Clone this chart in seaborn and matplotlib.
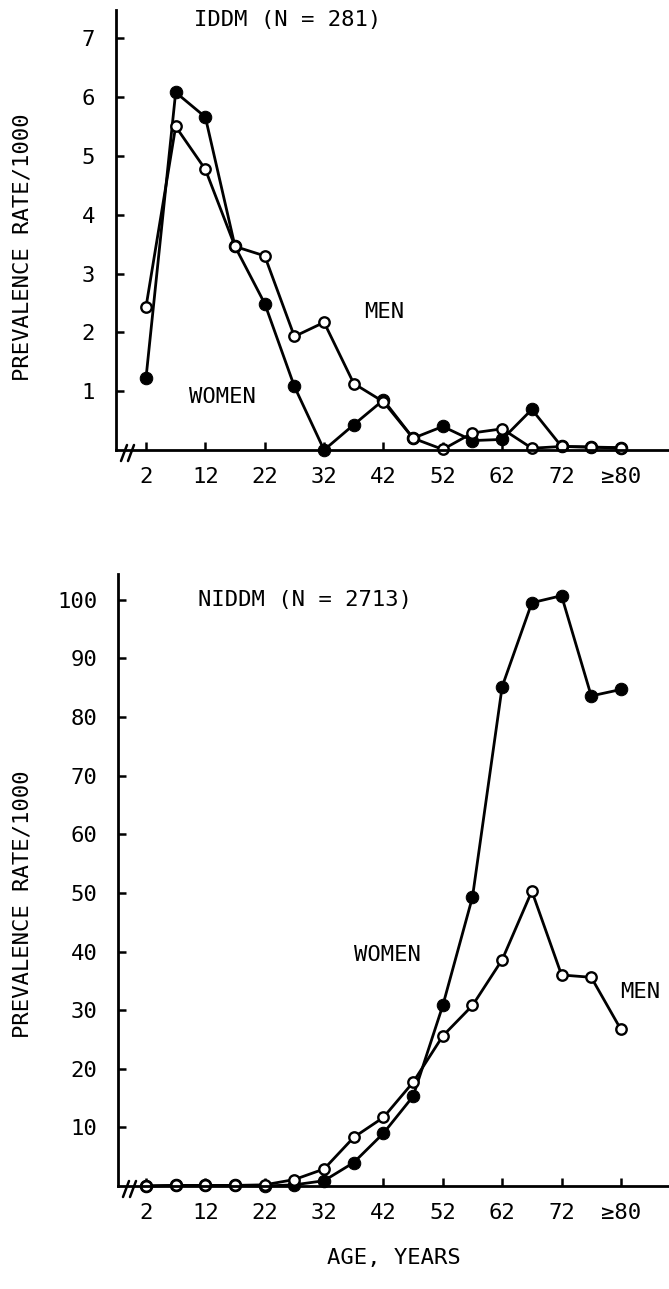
import numpy as np
import pandas as pd
import seaborn as sns
import matplotlib.pyplot as plt
from matplotlib.lines import Line2D

# ages: 5-year groups, last group is >=80
ages = [2, 7, 12, 17, 22, 27, 32, 37, 42, 47, 52, 57, 62, 67, 72, 77, 82]

iddm_women = [1.22, 6.08, 5.66, 3.46, 2.49, 1.08, 0.0, 0.43, 0.85, 0.2, 0.4,
              0.16, 0.18, 0.69, 0.06, 0.05, 0.04]
iddm_men = [2.43, 5.5, 4.77, 3.46, 3.3, 1.93, 2.17, 1.13, 0.82, 0.2, 0.01,
            0.29, 0.36, 0.03, 0.06, 0.05, 0.03]

niddm_women = [0.0, 0.1, 0.1, 0.1, 0.0, 0.2, 0.9, 4.0, 9.0, 15.3, 30.8,
               49.3, 85.2, 99.5, 100.7, 83.6, 84.7]
niddm_men = [0.0, 0.1, 0.1, 0.1, 0.2, 1.1, 2.9, 8.3, 11.7, 17.7, 25.6,
             30.8, 38.6, 50.3, 36.0, 35.6, 26.7]

xticks = [2, 12, 22, 32, 42, 52, 62, 72, 82]
xticklabels = ['2', '12', '22', '32', '42', '52', '62', '72', '≥80']

sns.set_style('ticks')
plt.rcParams['font.family'] = ['DejaVu Sans Mono', 'DejaVu Sans']
for k in ['text.color', 'axes.labelcolor', 'xtick.color', 'ytick.color', 'axes.edgecolor']:
    plt.rcParams[k] = 'black'

W, H = 669, 1289
fig = plt.figure(figsize=(W / 100, H / 100), dpi=100)


def panel(left, top, bottom, xlim, ylim, yticks, women, men, title, tpos, wpos, mpos):
    ax = fig.add_axes([left / W, 1 - bottom / H, (W - left) / W, (bottom - top) / H])
    df = pd.DataFrame({'age': ages * 2,
                       'rate': women + men,
                       'sex': ['WOMEN'] * len(ages) + ['MEN'] * len(ages)})
    sns.lineplot(data=df[df.sex == 'WOMEN'], x='age', y='rate', ax=ax, color='black',
                 lw=2, marker='o', markersize=9, markerfacecolor='black',
                 markeredgecolor='black', errorbar=None, clip_on=False)
    sns.lineplot(data=df[df.sex == 'MEN'], x='age', y='rate', ax=ax, color='black',
                 lw=2, marker='o', markersize=7.5, markerfacecolor='white',
                 markeredgecolor='black', markeredgewidth=1.7, errorbar=None, clip_on=False)
    ax.set_xlim(*xlim)
    ax.set_ylim(*ylim)
    ax.set_xticks(xticks)
    ax.set_xticklabels(xticklabels)
    ax.set_yticks(yticks)
    ax.set_xlabel('')
    ax.set_ylabel('PREVALENCE RATE/1000', fontsize=16)
    ax.yaxis.set_label_coords((33 - left) / (W - left), 0.46)
    ax.tick_params(direction='in', length=6, width=1.8, labelsize=16)
    ax.tick_params(axis='x', pad=12)
    ax.tick_params(axis='y', pad=15)
    sns.despine(ax=ax)
    for s in ['left', 'bottom']:
        ax.spines[s].set_linewidth(2)
    ax.text(*tpos, title, fontsize=16, ha='center', va='center')
    ax.text(*wpos, 'WOMEN', fontsize=16, ha='center', va='center')
    ax.text(*mpos, 'MEN', fontsize=16, ha='center', va='center')
    # axis break marks
    for dx in (0, 7):
        fig.add_artist(Line2D([(left + 5 + dx) / W, (left + 11 + dx) / W],
                              [1 - (bottom + 11) / H, 1 - (bottom - 5) / H],
                              color='black', lw=1.8))
    return ax


top = panel(116, 10, 450, (-3.05, 90.1), (0, 7.48), [1, 2, 3, 4, 5, 6, 7],
            iddm_women, iddm_men, 'IDDM (N = 281)', (25.9, 7.31), (14.8, 0.9), (42.2, 2.35))

bot = panel(118, 574, 1186, (-2.71, 90.1), (0, 104.4), list(range(10, 101, 10)),
            niddm_women, niddm_men, 'NIDDM (N = 2713)', (28.8, 100.0), (42.7, 39.4), (85.2, 33.1))
bot.set_xlabel('AGE, YEARS', fontsize=16, labelpad=18)

fig.savefig('out.png', dpi=100)
